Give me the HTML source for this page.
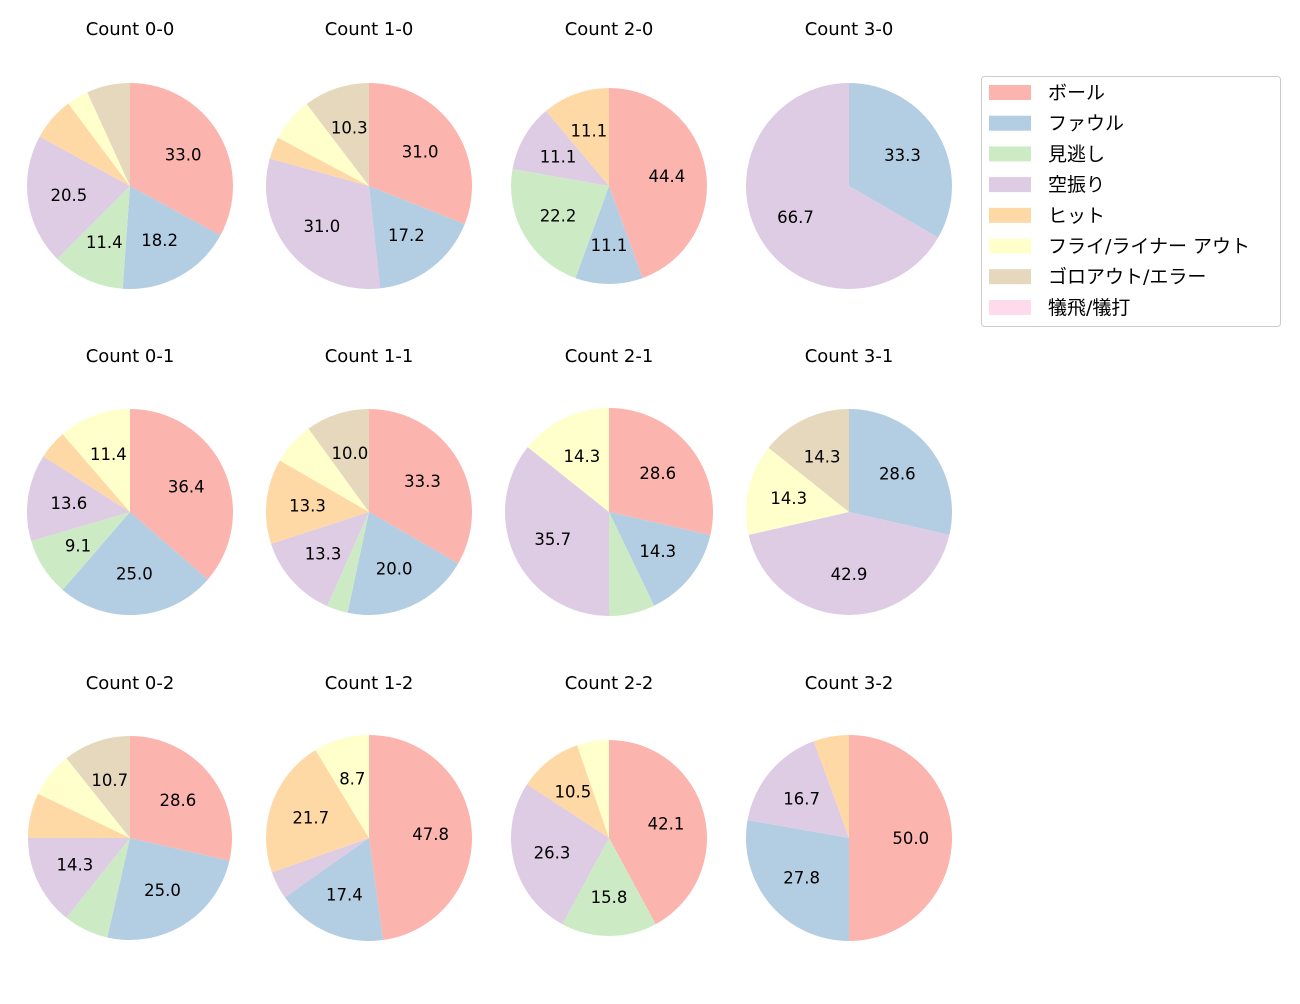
<!DOCTYPE html>
<html><head><meta charset="utf-8">
<style>
body{margin:0;background:#fff;width:1300px;height:1000px;overflow:hidden;font-family:"DejaVu Sans","Noto Sans CJK JP",sans-serif;}
</style></head>
<body>
<svg id="chart" width="1300" height="1000" xmlns="http://www.w3.org/2000/svg" font-family="'DejaVu Sans','Noto Sans CJK JP',sans-serif"></svg>
<script>
const categories = ["ボール","ファウル","見逃し","空振り","ヒット","フライ/ライナー アウト","ゴロアウト/エラー","犠飛/犠打"];
const colors = ["#fbb4ae","#b3cde3","#ccebc5","#decbe4","#fed9a6","#ffffcc","#e5d8bd","#fddaec"];
const titles = ["Count 0-0","Count 1-0","Count 2-0","Count 3-0","Count 0-1","Count 1-1","Count 2-1","Count 3-1","Count 0-2","Count 1-2","Count 2-2","Count 3-2"];
const counts00 = [29,16,10,18,6,3,6,0];
const counts10 = [9,5,0,9,1,2,3,0];
const counts20 = [4,1,2,1,1,0,0,0];
const counts30 = [0,1,0,2,0,0,0,0];
const counts01 = [16,11,4,6,2,5,0,0];
const counts11 = [10,6,1,4,4,2,3,0];
const counts21 = [4,2,1,5,0,2,0,0];
const counts31 = [0,2,0,3,0,1,1,0];
const counts02 = [8,7,2,4,2,2,3,0];
const counts12 = [11,4,0,1,5,2,0,0];
const counts22 = [8,0,3,5,2,1,0,0];
const counts32 = [9,5,0,3,1,0,0,0];
const allCounts = [counts00,counts10,counts20,counts30,counts01,counts11,counts21,counts31,counts02,counts12,counts22,counts32];

const svg = document.getElementById('chart');
const NS = "http://www.w3.org/2000/svg";
const colX = [130,369,609,849], rowY = [186,512,838], titleY = [35,362,689];
const radii = [103,103,98,103,103,103,104,103,102,103,98,103];

allCounts.forEach((vals, i) => {
  const cx = colX[i%4], cy = rowY[Math.floor(i/4)], r = radii[i];
  const g = document.createElementNS(NS,'g');
  
  
  svg.appendChild(g);
  const t = document.createElementNS(NS,'text');
  t.setAttribute('x', cx); t.setAttribute('y', titleY[Math.floor(i/4)]);
  t.setAttribute('text-anchor','middle'); t.setAttribute('font-size','18');
  t.textContent = titles[i];
  
  
  g.appendChild(t);
  const total = vals.reduce((a,b)=>a+b,0);
  let ang = 90;
  vals.forEach((v, k) => {
    if (v <= 0) return;
    const sweep = v/total*360;
    const a0 = ang*Math.PI/180, a1 = (ang - sweep)*Math.PI/180;
    let el;
    if (sweep >= 359.999) {
      el = document.createElementNS(NS,'circle');
      el.setAttribute('cx',cx); el.setAttribute('cy',cy); el.setAttribute('r',r);
    } else {
      const x0 = cx + r*Math.cos(a0), y0 = cy - r*Math.sin(a0);
      const x1 = cx + r*Math.cos(a1), y1 = cy - r*Math.sin(a1);
      el = document.createElementNS(NS,'path');
      el.setAttribute('d', `M${cx},${cy} L${x0},${y0} A${r},${r} 0 ${sweep>180?1:0} 1 ${x1},${y1} Z`);
    }
    el.setAttribute('fill', colors[k]);
    
    
    g.appendChild(el);
    const pct = v/total*100;
    if (pct >= 8) {
      const mid = (ang - sweep/2)*Math.PI/180;
      const lx = cx + 0.6*r*Math.cos(mid), ly = cy - 0.6*r*Math.sin(mid);
      const lt = document.createElementNS(NS,'text');
      lt.setAttribute('x', lx); lt.setAttribute('y', ly + 6);
      lt.setAttribute('text-anchor','middle'); lt.setAttribute('font-size','16.5');
      lt.textContent = pct.toFixed(1);
      
      
      g.appendChild(lt);
    }
    ang -= sweep;
  });
});

// legend
const lg = document.createElementNS(NS,'g');


svg.appendChild(lg);
const box = document.createElementNS(NS,'rect');
box.setAttribute('x',981.5); box.setAttribute('y',76.5); box.setAttribute('width',299); box.setAttribute('height',250);
box.setAttribute('rx',3); box.setAttribute('fill','#fff'); box.setAttribute('stroke','#ccc');


lg.appendChild(box);
categories.forEach((c, k) => {
  const y = 92 + k*30.7;
  const sw = document.createElementNS(NS,'rect');
  sw.setAttribute('x',989); sw.setAttribute('y',y-7); sw.setAttribute('width',42); sw.setAttribute('height',15);
  sw.setAttribute('fill',colors[k]);
  
  
  lg.appendChild(sw);
  const tx = document.createElementNS(NS,'text');
  tx.setAttribute('x',1048); tx.setAttribute('y',y+7); tx.setAttribute('font-size','19');
  tx.textContent = c;
  
  
  lg.appendChild(tx);
});
</script>
</body></html>
